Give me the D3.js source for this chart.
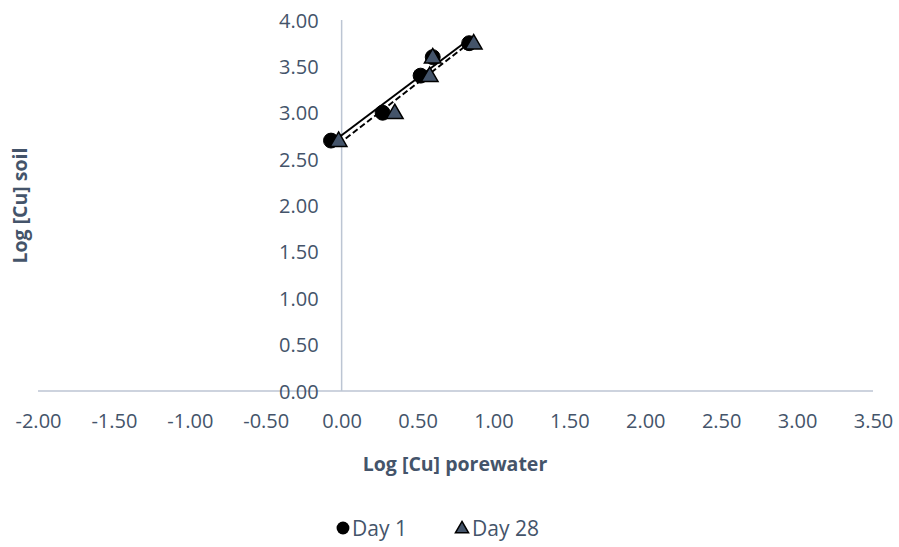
<!DOCTYPE html>
<html>
<head>
<meta charset="utf-8">
<script src="https://cdn.jsdelivr.net/npm/d3@7/dist/d3.min.js"></script>
<style>
  html, body { margin: 0; padding: 0; background: #fff; }
  svg text { font-family: "Open Sans", "Noto Sans", sans-serif; }
</style>
</head>
<body>
<svg id="chart" width="899" height="547"></svg>
<script>
// Log-transformed copper concentrations: porewater (x) vs soil (y)
const day1X = [-0.07, 0.27, 0.52, 0.60, 0.84];
const day1Y = [2.70, 3.00, 3.40, 3.60, 3.75];
const day28X = [-0.02, 0.35, 0.58, 0.60, 0.87];
const day28Y = [2.70, 3.00, 3.40, 3.60, 3.75];
const xTicks = [-2.0, -1.5, -1.0, -0.5, 0.0, 0.5, 1.0, 1.5, 2.0, 2.5, 3.0, 3.5];
const yTicks = [0.0, 0.5, 1.0, 1.5, 2.0, 2.5, 3.0, 3.5, 4.0];
const seriesNames = ["Day 1", "Day 28"];

const svg = d3.select("#chart");
const textColor = "#44546a";
const axisColor = "#bcc5d3";

const x = d3.scaleLinear().domain([-2, 3.5]).range([38, 873]);
const y = d3.scaleLinear().domain([0, 4]).range([391, 20]);

// Axis lines crossing at the origin
svg.append("line")
  .attr("x1", x(-2)).attr("x2", x(3.5))
  .attr("y1", y(0)).attr("y2", y(0))
  .attr("stroke", axisColor).attr("stroke-width", 1.5);
svg.append("line")
  .attr("x1", x(0)).attr("x2", x(0))
  .attr("y1", y(0)).attr("y2", y(4))
  .attr("stroke", axisColor).attr("stroke-width", 1.5);

// Two decimals with a plain hyphen for negatives
const f2 = d3.format(".2f");
const fmt = v => f2(v).replace("\u2212", "-");

// Y tick labels sit to the left of the vertical axis
const yAxis = d3.axisLeft(y).tickValues(yTicks).tickFormat(fmt).tickSize(0).tickPadding(0);
const gy = svg.append("g").attr("transform", `translate(${x(0) - 23},0)`).call(yAxis);
gy.select(".domain").remove();
gy.selectAll("text").attr("fill", textColor).style("font-size", "20px").attr("dy", "0.35em");

// X tick labels sit in a row below the chart area
const xAxis = d3.axisBottom(x).tickValues(xTicks).tickFormat(fmt).tickSize(0).tickPadding(0);
const gx = svg.append("g").attr("transform", `translate(0,${y(0) + 30})`).call(xAxis);
gx.select(".domain").remove();
gx.selectAll("text").attr("fill", textColor).style("font-size", "20px").attr("dy", "0.35em").attr("y", 0);

// Axis titles
svg.append("text")
  .attr("x", 455).attr("y", 463)
  .attr("text-anchor", "middle").attr("dominant-baseline", "central")
  .attr("fill", textColor).style("font-size", "19.5px").style("font-weight", "bold")
  .text("Log [Cu] porewater");
svg.append("text")
  .attr("transform", `translate(19,${(y(0) + y(4)) / 2}) rotate(-90)`)
  .attr("text-anchor", "middle").attr("dominant-baseline", "central")
  .attr("fill", textColor).style("font-size", "19.5px").style("font-weight", "bold")
  .text("Log [Cu] soil");

// Least-squares trend line over the range of each series
function fit(xs, ys) {
  const mx = d3.mean(xs), my = d3.mean(ys);
  const sxy = d3.sum(xs, (v, i) => (v - mx) * (ys[i] - my));
  const sxx = d3.sum(xs, v => (v - mx) * (v - mx));
  const b = sxy / sxx, a = my - b * mx;
  const [x0, x1] = d3.extent(xs);
  return [[x0, a + b * x0], [x1, a + b * x1]];
}
const line = d3.line().x(d => x(d[0])).y(d => y(d[1]));

svg.append("path").attr("d", line(fit(day1X, day1Y)))
  .attr("fill", "none").attr("stroke", "#000").attr("stroke-width", 2);
svg.append("path").attr("d", line(fit(day28X, day28Y)))
  .attr("fill", "none").attr("stroke", "#000").attr("stroke-width", 2)
  .attr("stroke-dasharray", "6,3");

// Markers
const circleSym = d3.symbol().type(d3.symbolCircle).size(175);
const triSym = d3.symbol().type(d3.symbolTriangle).size(120);

svg.append("g").selectAll("path")
  .data(d3.zip(day1X, day1Y)).join("path")
  .attr("d", circleSym)
  .attr("transform", d => `translate(${x(d[0])},${y(d[1])})`)
  .attr("fill", "#000").attr("stroke", "#000").attr("stroke-width", 1);

svg.append("g").selectAll("path")
  .data(d3.zip(day28X, day28Y)).join("path")
  .attr("d", triSym)
  .attr("transform", d => `translate(${x(d[0])},${y(d[1]) + 1})`)
  .attr("fill", "#44546a").attr("stroke", "#000").attr("stroke-width", 1.5);

// Legend
const lg = svg.append("g");
lg.append("path").attr("d", d3.symbol().type(d3.symbolCircle).size(130))
  .attr("transform", "translate(343,528)").attr("fill", "#000");
lg.append("text").attr("x", 352).attr("y", 528).attr("dominant-baseline", "central")
  .attr("fill", textColor).style("font-size", "21px").text(seriesNames[0]);
lg.append("path").attr("d", d3.symbol().type(d3.symbolTriangle).size(75))
  .attr("transform", "translate(462,529)").attr("fill", "#44546a")
  .attr("stroke", "#000").attr("stroke-width", 1.5);
lg.append("text").attr("x", 472).attr("y", 528).attr("dominant-baseline", "central")
  .attr("fill", textColor).style("font-size", "21px").text(seriesNames[1]);
</script>
</body>
</html>
